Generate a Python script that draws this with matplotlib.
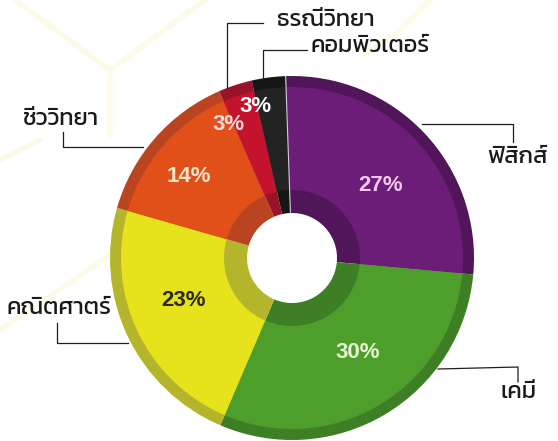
import numpy as np
import matplotlib
matplotlib.use('Agg')
import matplotlib.pyplot as plt

# subjects, share in percent, clockwise from the top
subjects = ['ฟิสิกส์', 'เคมี', 'คณิตศาตร์', 'ชีววิทยา', 'ธรณีวิทยา', 'คอมพิวเตอร์']
shares = [27, 30, 23, 14, 3, 3]
pct_labels = ['27%', '30%', '23%', '14%', '3%', '3%']

main_colors = ['#6b1d78', '#4d9e2a', '#e6e31d', '#e2501a', '#c4132c', '#232323']
rim_colors = ['#511559', '#3e7f25', '#b4b52a', '#b9441f', '#98122a', '#161616']
pct_colors = ['#f4c8f0', '#e6f6d2', '#2b2a12', '#fbe2cc', '#f9dada', '#ffffff']

W, H = 558, 441
cx, cy = 292, H - 258
r_out, r_rim, r_inner, r_hole = 182, 171, 68, 45

thai = ['Kanit', 'DejaVu Sans']

fig = plt.figure(figsize=(W / 100, H / 100), dpi=100)
ax = fig.add_axes([0, 0, 1, 1])

# faint yellow hexagon pattern in the background
hex_lines = [
    [(15, 0), (110, 70), (110, 135)],
    [(110, 70), (205, 0)],
    [(0, 330), (110, 255)],
    [(365, 55), (400, 30), (430, 0)],
    [(0, 160), (40, 140)],
]
for pts in hex_lines:
    xs, ys = zip(*pts)
    ax.plot(xs, [H - y for y in ys], color='#fdfbe8', lw=4, solid_capstyle='round', zorder=0)

# darker rim + inner ring, then the brighter band on top
ax.pie(shares, radius=r_out, center=(cx, cy), startangle=92, counterclock=False,
       colors=rim_colors, wedgeprops=dict(width=r_out - r_hole, linewidth=0))
wedges, _ = ax.pie(shares, radius=r_rim, center=(cx, cy), startangle=92, counterclock=False,
                   colors=main_colors, wedgeprops=dict(width=r_rim - r_inner, linewidth=0))

# thin light seam at the top
a = np.deg2rad(92)
ax.plot([cx + r_hole * np.cos(a), cx + r_out * np.cos(a)],
        [cy + r_hole * np.sin(a), cy + r_out * np.sin(a)], color='#d9c8e0', lw=0.8, zorder=5)

# percentage labels
pct_radius = [114, 115, 116, 131, 148, 156]
pct_nudge = [-4, 4, -4, 3, 7, 6]
for w, lab, col, rr, dn in zip(wedges, pct_labels, pct_colors, pct_radius, pct_nudge):
    mid = np.deg2rad((w.theta1 + w.theta2) / 2 + dn)
    ax.text(cx + rr * np.cos(mid), cy + rr * np.sin(mid), lab, color=col,
            fontsize=16, fontweight='bold', family='Liberation Sans',
            ha='center', va='center', zorder=6)

# subject labels with leader lines (pixel coords, y from top)
label_pos = {
    'ฟิสิกส์': (487, 157),
    'เคมี': (501, 392),
    'คณิตศาตร์': (7, 308),
    'ชีววิทยา': (22, 119),
    'ธรณีวิทยา': (277, 20),
    'คอมพิวเตอร์': (311, 46),
}
leaders = {
    'ฟิสิกส์': [(422, 124), (513, 124), (513, 142)],
    'เคมี': [(438, 369), (518, 367), (518, 382)],
    'คณิตศาตร์': [(57, 323), (57, 343), (128, 343)],
    'ชีววิทยา': [(63, 132), (63, 147), (143, 147)],
    'ธรณีวิทยา': [(263, 23), (227, 23), (227, 88)],
    'คอมพิวเตอร์': [(307, 50), (263, 50), (263, 78)],
}
for name in subjects:
    x, y = label_pos[name]
    ax.text(x, H - y, name, fontsize=17, family=thai, color='#1a1a1a',
            ha='left', va='center', zorder=6)
    xs, ys = zip(*leaders[name])
    ax.plot(xs, [H - v for v in ys], color='#1e1e1e', lw=0.9, zorder=4)

ax.set_xlim(0, W)
ax.set_ylim(0, H)
ax.set_aspect('auto')
ax.axis('off')
fig.savefig('out.png', dpi=100, facecolor='white')
